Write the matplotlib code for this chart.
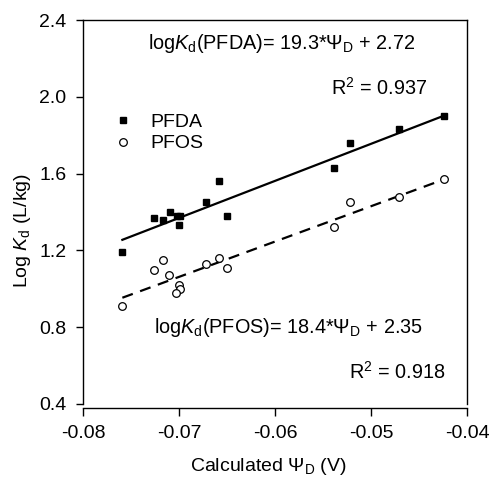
import matplotlib
matplotlib.use("Agg")
import matplotlib.pyplot as plt
import numpy as np

plt.rcParams['font.family'] = ['Liberation Sans', 'DejaVu Sans']
plt.rcParams['mathtext.fontset'] = 'custom'
plt.rcParams['mathtext.rm'] = 'Liberation Sans'
plt.rcParams['mathtext.it'] = 'Liberation Sans:italic'
plt.rcParams['mathtext.sf'] = 'Liberation Sans'

# Data
pfda_x = [-0.0759, -0.0726, -0.0717, -0.0709, -0.0702, -0.0699, -0.0700,
          -0.0672, -0.0658, -0.0650, -0.0539, -0.0522, -0.0471, -0.0424]
pfda_y = [1.19, 1.37, 1.36, 1.40, 1.38, 1.38, 1.33,
          1.45, 1.56, 1.38, 1.63, 1.76, 1.83, 1.90]
pfos_x = [-0.0759, -0.0726, -0.0717, -0.0710, -0.0700, -0.0699, -0.0703,
          -0.0672, -0.0658, -0.0650, -0.0539, -0.0522, -0.0471, -0.0424]
pfos_y = [0.91, 1.10, 1.15, 1.07, 1.02, 1.00, 0.98,
          1.13, 1.16, 1.11, 1.32, 1.45, 1.48, 1.57]
pfda_fit = (19.3, 2.72)
pfos_fit = (18.4, 2.35)
xticks = [-0.08, -0.07, -0.06, -0.05, -0.04]
yticks = [0.4, 0.8, 1.2, 1.6, 2.0, 2.4]

fig = plt.figure(figsize=(4.92, 4.79), dpi=100)
ax = fig.add_axes([83/492, 1 - 404/479, 384/492, 384/479])

ax.plot(pfda_x, pfda_y, 's', color='black', markersize=5, label='PFDA', zorder=3)
ax.plot(pfos_x, pfos_y, 'o', markerfacecolor='white', markeredgecolor='black',
        markeredgewidth=0.9, markersize=5.5, label='PFOS', zorder=3)

xa = np.array([min(pfda_x), max(pfda_x)])
ax.plot(xa, pfda_fit[0] * xa + pfda_fit[1], '-', color='black', lw=1.6)
xb = np.array([min(pfos_x), max(pfos_x)])
ax.plot(xb, pfos_fit[0] * xb + pfos_fit[1], '--', color='black', lw=1.6,
        dashes=(5, 3.5))

ax.set_xlim(-0.08, -0.04)
ax.set_ylim(0.4, 2.4)
ax.set_xticks(xticks)
ax.set_xticklabels([f'{t:.2f}' for t in xticks])
ax.set_yticks(yticks)
ax.set_yticklabels([f'{t:.1f}' for t in yticks])
ax.tick_params(direction='out', width=1, labelsize=14)
ax.tick_params(axis='x', length=6, pad=6)
ax.tick_params(axis='y', length=5, pad=7)
ax.spines['bottom'].set_position(('outward', 3))
for s in ax.spines.values():
    s.set_linewidth(1)

ax.set_xlabel(r'Calculated $\Psi_\mathregular{D}$ (V)', fontsize=14)
ax.set_ylabel(r'Log $\mathit{K}_\mathregular{d}$ (L/kg)', fontsize=14)
ax.xaxis.set_label_coords(0.482, -0.136)
ax.yaxis.set_label_coords(-0.13, 0.453)

ax.text(0.516, 0.94, r'log$\mathit{K}_\mathregular{d}$(PFDA)= 19.3*$\Psi_\mathregular{D}$ + 2.72',
        transform=ax.transAxes, ha='center', va='center', fontsize=14.3)
ax.text(0.895, 0.823, r'R$^\mathregular{2}$ = 0.937', transform=ax.transAxes,
        ha='right', va='center', fontsize=14.3)
ax.text(0.534, 0.198, r'log$\mathit{K}_\mathregular{d}$(PFOS)= 18.4*$\Psi_\mathregular{D}$ + 2.35',
        transform=ax.transAxes, ha='center', va='center', fontsize=14.3)
ax.text(0.943, 0.083, r'R$^\mathregular{2}$ = 0.918', transform=ax.transAxes,
        ha='right', va='center', fontsize=14.3)

ax.legend(loc='upper left', bbox_to_anchor=(0.079, 0.757), frameon=False,
          fontsize=14, handlelength=1.0, handletextpad=0.9, labelspacing=0.2,
          borderpad=0, borderaxespad=0)

fig.savefig('out.png', dpi=100)
